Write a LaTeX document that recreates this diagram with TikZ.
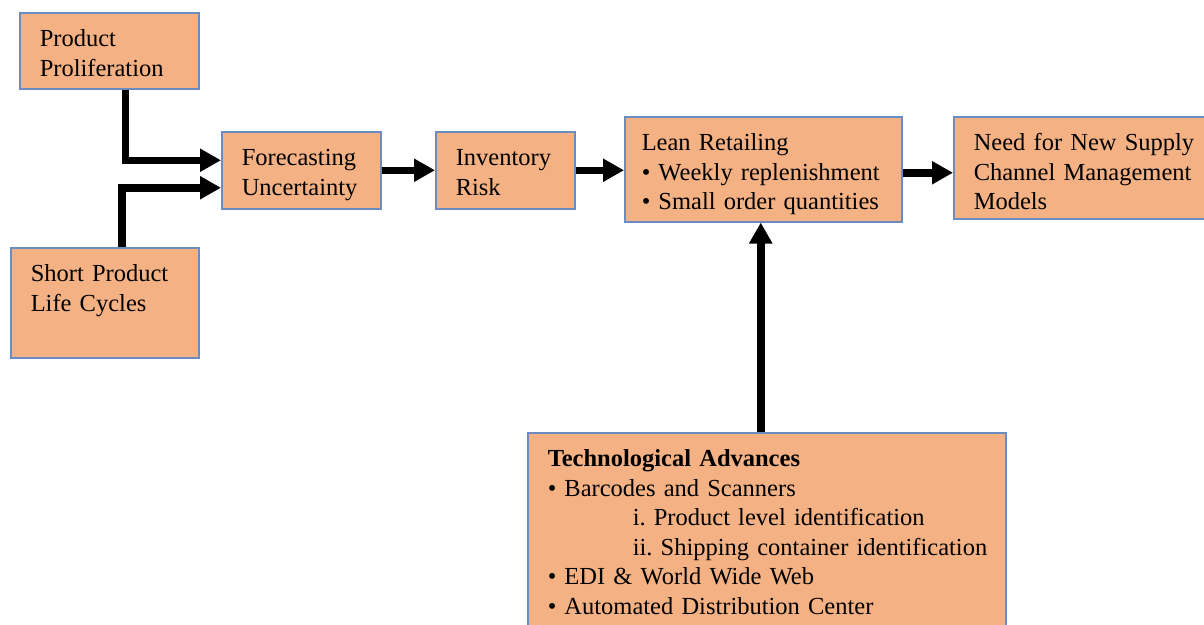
\documentclass[tikz,border=0pt]{standalone}
\usepackage{fontspec}
\setmainfont{Liberation Serif}
\usepackage{xcolor}
\usepackage{tikz}
\usetikzlibrary{arrows.meta}

\definecolor{boxorange}{HTML}{F4B183}
\definecolor{edgeblue}{HTML}{6A8CC0}

\tikzset{
  blk/.style={draw=edgeblue, fill=boxorange, line width=1.5pt, anchor=north west,
    align=left, inner xsep=20pt, inner ysep=0pt, text height=34pt,
    font=\fontsize{24.5}{29.5}\selectfont},
  flow/.style={line width=7.5pt, -{Triangle[length=21pt,width=22pt]}}
}

\begin{document}
\begin{tikzpicture}[x=1pt,y=-1pt]
\useasboundingbox (0,0) rectangle (1204,624);

% Draw boxes
\node[blk, text width=139pt, text depth=42pt] (prolif) at (19,12) {Product\\Proliferation};
\node[blk, text width=148pt, text depth=76pt] (short) at (10,247) {Short Product\\Life Cycles};
\node[blk, text width=119pt, text depth=43pt] (forecast) at (221,131) {Forecasting\\Uncertainty};
\node[blk, text width=99pt, text depth=43pt] (risk) at (435,131) {Inventory\\Risk};
\node[blk, inner xsep=17pt, text width=243pt, text depth=71pt] (lean) at (624,116) {Lean Retailing\\\textbullet{} Weekly replenishment\\\textbullet{} Small order quantities};
\node[blk, text width=230pt, text depth=68pt] (need) at (953,116) {Need for New Supply\\Channel Management\\Models};
\node[blk, text width=438pt, text depth=166pt] (tech) at (527,432) {\textbf{Technological Advances}\\
  \textbullet{} Barcodes and Scanners\\
  \mbox{\hspace*{85pt}i.\ Product level identification}\\
  \mbox{\hspace*{85pt}ii.\ Shipping container identification}\\
  \textbullet{} EDI \& World Wide Web\\
  \textbullet{} Automated Distribution Center};

% Draw arrows
\draw[flow] ([xshift=16pt]prolif.south) |- ([yshift=10pt]forecast.west);
\draw[flow] ([xshift=17pt]short.north) |- ([yshift=-17.5pt]forecast.west);
\draw[flow] (forecast.east) -- (risk.west);
\draw[flow] (risk.east) -- (risk.east -| lean.west);
\draw[flow] ([yshift=-3.5pt]lean.east) -- ([yshift=-3.5pt]lean.east -| need.west);
\draw[flow] ([xshift=-2.5pt]lean.south |- tech.north) -- ([xshift=-2.5pt]lean.south);

\end{tikzpicture}
\end{document}
